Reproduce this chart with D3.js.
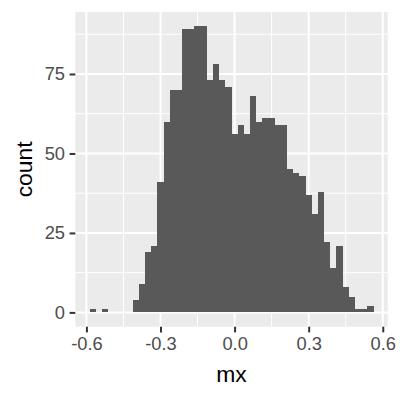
<!DOCTYPE html>
<html lang="en">
<head>
    <meta charset="UTF-8">
    <title>Histogram mx</title>
    <script src="https://d3js.org/d3.v7.min.js"></script>
    <style>
        body { margin: 0; background: #fff; }
        text { font-family: "Liberation Sans", Arial, sans-serif; }
    </style>
</head>
<body>
    <svg width="400" height="400"></svg>

    <script>
        // bin centres (binwidth 0.025) and counts
        const binCenters = [
            -0.575, -0.55, -0.525, -0.5, -0.475, -0.45, -0.425,
            -0.4, -0.375, -0.35, -0.325, -0.3, -0.275, -0.25, -0.225,
            -0.2, -0.175, -0.15, -0.125, -0.1, -0.075, -0.05, -0.025,
            0, 0.025, 0.05, 0.075, 0.1, 0.125, 0.15, 0.175,
            0.2, 0.225, 0.25, 0.275, 0.3, 0.325, 0.35, 0.375,
            0.4, 0.425, 0.45, 0.475, 0.5, 0.525, 0.55
        ];
        const counts = [
            1, 0, 1, 0, 0, 0, 0,
            4, 9, 19, 21, 41, 60, 70, 70,
            89, 89, 90, 90, 73, 78, 73, 71,
            56, 59, 56, 68, 60, 61, 61, 59,
            59, 45, 44, 43, 37, 31, 38, 22,
            14, 21, 8, 5, 1, 1, 2
        ];
        const binWidth = 0.025;
        const xTicks = [-0.6, -0.3, 0, 0.3, 0.6];
        const xMinor = [-0.45, -0.15, 0.15, 0.45];
        const yTicks = [0, 25, 50, 75];
        const yMinor = [12.5, 37.5, 62.5, 87.5];

        const panel = { left: 75.3, right: 387.7, top: 12, bottom: 326.7 };
        const tickLen = 5.7, tickPad = 4.6;

        const svg = d3.select("svg");

        // ggplot style 5% expansion
        const xLo = d3.min(binCenters) - binWidth / 2;
        const xHi = d3.max(binCenters) + binWidth / 2;
        const xPad = (xHi - xLo) * 0.05;
        const x = d3.scaleLinear()
            .domain([xLo - xPad, xHi + xPad])
            .range([panel.left, panel.right]);

        const yMax = d3.max(counts);
        const y = d3.scaleLinear()
            .domain([-yMax * 0.05, yMax * 1.05])
            .range([panel.bottom, panel.top]);

        // panel background
        svg.append("rect")
            .attr("x", panel.left)
            .attr("y", panel.top)
            .attr("width", panel.right - panel.left)
            .attr("height", panel.bottom - panel.top)
            .attr("fill", "#EBEBEB");

        // grid lines
        const grid = svg.append("g");
        grid.selectAll(".xminor").data(xMinor).join("line")
            .attr("x1", d => x(d)).attr("x2", d => x(d))
            .attr("y1", panel.top).attr("y2", panel.bottom)
            .attr("stroke", "#fff").attr("stroke-width", 1);
        grid.selectAll(".yminor").data(yMinor).join("line")
            .attr("y1", d => y(d)).attr("y2", d => y(d))
            .attr("x1", panel.left).attr("x2", panel.right)
            .attr("stroke", "#fff").attr("stroke-width", 1);
        grid.selectAll(".xmajor").data(xTicks).join("line")
            .attr("x1", d => x(d)).attr("x2", d => x(d))
            .attr("y1", panel.top).attr("y2", panel.bottom)
            .attr("stroke", "#fff").attr("stroke-width", 2);
        grid.selectAll(".ymajor").data(yTicks).join("line")
            .attr("y1", d => y(d)).attr("y2", d => y(d))
            .attr("x1", panel.left).attr("x2", panel.right)
            .attr("stroke", "#fff").attr("stroke-width", 2);

        // bars (crisp edges so neighbouring bins show no seams)
        svg.append("g")
            .attr("shape-rendering", "crispEdges")
            .selectAll("rect")
            .data(binCenters.map((c, i) => ({ c: c, n: counts[i] })))
            .join("rect")
            .attr("x", d => x(d.c - binWidth / 2))
            .attr("width", d => x(d.c + binWidth / 2) - x(d.c - binWidth / 2))
            .attr("y", d => y(d.n))
            .attr("height", d => y(0) - y(d.n))
            .attr("fill", "#595959");

        // x axis
        const xAxis = svg.append("g")
            .attr("transform", `translate(0,${panel.bottom})`)
            .call(d3.axisBottom(x)
                .tickValues(xTicks)
                .tickSize(tickLen)
                .tickPadding(tickPad)
                .tickFormat(d => d.toFixed(1)));
        xAxis.select(".domain").remove();
        xAxis.selectAll("line").attr("stroke", "#333333").attr("stroke-width", 2);
        xAxis.selectAll("text")
            .attr("fill", "#4D4D4D")
            .style("font-size", "18.3px")
            .style("font-family", "'Liberation Sans', Arial, sans-serif");

        // y axis
        const yAxis = svg.append("g")
            .attr("transform", `translate(${panel.left},0)`)
            .call(d3.axisLeft(y)
                .tickValues(yTicks)
                .tickSize(tickLen)
                .tickPadding(tickPad));
        yAxis.select(".domain").remove();
        yAxis.selectAll("line").attr("stroke", "#333333").attr("stroke-width", 2);
        yAxis.selectAll("text")
            .attr("fill", "#4D4D4D")
            .style("font-size", "18.3px")
            .style("font-family", "'Liberation Sans', Arial, sans-serif");

        // axis titles
        svg.append("text")
            .attr("x", (panel.left + panel.right) / 2)
            .attr("y", 381.7)
            .attr("text-anchor", "middle")
            .style("font-size", "22.9px")
            .text("mx");

        svg.append("text")
            .attr("transform", `translate(31.7,${(panel.top + panel.bottom) / 2}) rotate(-90)`)
            .attr("text-anchor", "middle")
            .style("font-size", "22.9px")
            .text("count");
    </script>
</body>
</html>
